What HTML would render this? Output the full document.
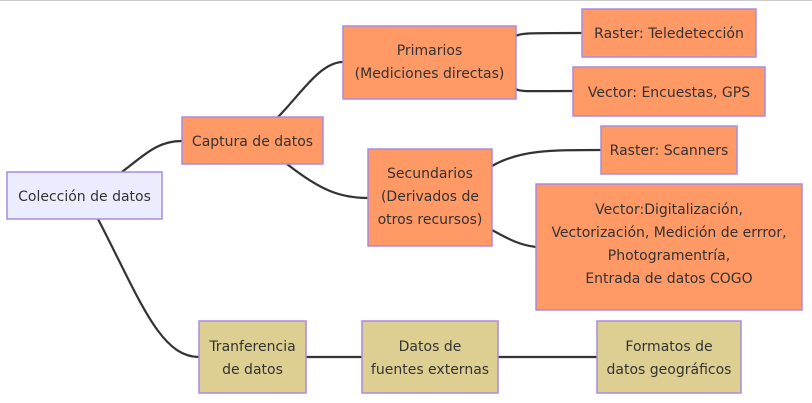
<!DOCTYPE html>
<html><head><meta charset="utf-8"><style>
html,body{margin:0;padding:0;background:#fff;width:812px;height:403px;overflow:hidden}
text{font-family:"DejaVu Sans","Liberation Sans",sans-serif;font-size:14px;fill:#333;text-anchor:middle}
.o{fill:#ff9966;stroke:#a98be0;stroke-width:1.5}
.b{fill:#ececff;stroke:#a98be0;stroke-width:1.5}
.g{fill:#ddcf92;stroke:#a98be0;stroke-width:1.5}
path{fill:none;stroke:#333;stroke-width:2.2}
</style></head><body>
<svg width="812" height="403" viewBox="0 0 812 403" xmlns="http://www.w3.org/2000/svg">
<line x1="0" y1="0.5" x2="812" y2="0.5" stroke="#ccc" stroke-width="1"/>
<path d="M122 172 C150 150,160 141,182 141"/>
<path d="M98 219 C140 300,160 357,199 357"/>
<path d="M278 117 C300 95,320 62,343 62"/>
<path d="M287 164 C320 190,340 198,368 198"/>
<path d="M516 36 C520 33,530 33,582 33"/>
<path d="M516 89 C520 92,530 91,573 91"/>
<path d="M492 166 C520 150,550 150,601 150"/>
<path d="M492 230 C510 240,520 245,536 247"/>
<path d="M306 357 L362 357"/>
<path d="M498 357 L597 357"/>
<rect class="b" x="7" y="172" width="155" height="47"/>
<text x="84.5" y="201">Colección de datos</text>
<rect class="o" x="182" y="117" width="141" height="47"/>
<text x="252.5" y="146">Captura de datos</text>
<rect class="o" x="343" y="26" width="173" height="73"/>
<text x="429.5" y="55">Primarios</text>
<text x="429.5" y="78">(Mediciones directas)</text>
<rect class="o" x="582" y="9" width="174" height="48"/>
<text x="669" y="38">Raster: Teledetección</text>
<rect class="o" x="573" y="67" width="192" height="49"/>
<text x="669" y="97">Vector: Encuestas, GPS</text>
<rect class="o" x="368" y="149" width="124" height="97"/>
<text x="430" y="178">Secundarios</text>
<text x="430" y="201">(Derivados de</text>
<text x="430" y="224">otros recursos)</text>
<rect class="o" x="601" y="126" width="136" height="48"/>
<text x="669" y="155">Raster: Scanners</text>
<rect class="o" x="536" y="184" width="266" height="126"/>
<text x="669" y="214">Vector:Digitalización,</text>
<text x="669" y="237">Vectorización, Medición de errror,</text>
<text x="669" y="260">Photogramentría,</text>
<text x="669" y="283">Entrada de datos COGO</text>
<rect class="g" x="199" y="321" width="107" height="72"/>
<text x="252.5" y="351">Tranferencia</text>
<text x="252.5" y="374">de datos</text>
<rect class="g" x="362" y="321" width="136" height="72"/>
<text x="430" y="351">Datos de</text>
<text x="430" y="374">fuentes externas</text>
<rect class="g" x="597" y="321" width="144" height="72"/>
<text x="669" y="351">Formatos de</text>
<text x="669" y="374">datos geográficos</text>
</svg>
</body></html>
